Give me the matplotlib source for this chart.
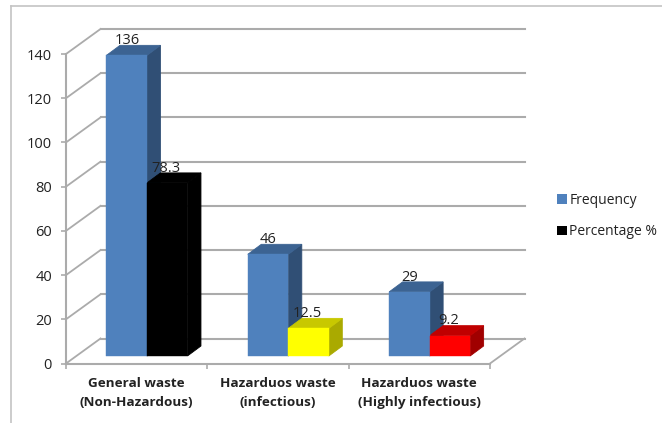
import matplotlib
matplotlib.use("Agg")
import matplotlib.pyplot as plt
from matplotlib.patches import Patch, Polygon, Rectangle
import numpy as np

categories = ['General waste\n(Non-Hazardous)', 'Hazarduos waste\n(infectious)', 'Hazarduos waste\n(Highly infectious)']
frequency = [136, 46, 29]
percentage = [78.3, 12.5, 9.2]
percent_labels = ['78.3', '12.5', '9.2']
y_ticks = [0, 20, 40, 60, 80, 100, 120, 140]

# front, top, side
blue = ('#4F81BD', '#3C6392', '#304F75')
pct_colors = [('#000000', '#000000', '#000000'),
              ('#FFFF00', '#C8C800', '#AAAA00'),
              ('#FF0000', '#C00000', '#A00000')]

plt.rcParams['font.family'] = ['Open Sans', 'DejaVu Sans']
GREY = '#ABABAB'
TXT = '#222222'

W, H = 662, 423
fig = plt.figure(figsize=(W/100, H/100), dpi=100, facecolor='white')

# outer frame of the pasted chart
fig.add_artist(plt.Line2D([11/W, 11/W], [0, 1-6/H], color='#C4C4C4', lw=1.2))
fig.add_artist(plt.Line2D([11/W, 1], [1-6/H, 1-6/H], color='#C4C4C4', lw=1.2))

x0, x1, y0, y1 = 66, 490, 363.5, 54
ax = fig.add_axes([x0/W, 1-y0/H, (x1-x0)/W, (y0-y1)/H])
ax.set_xlim(0, 3)
ax.set_ylim(0, 140)
ax.patch.set_visible(False)

# pixel sizes -> data units
px_x = 3/(x1-x0)
px_y = 140/(y0-y1)
wall_dx, wall_dy = 34.5*px_x, 25*px_y
depth_dx, depth_dy = 13.5*px_x, 10*px_y
lift_dx, lift_dy = 10.3*px_x, 7.5*px_y
bar_w = 40.5*px_x

# walls and floor
for v in y_ticks:
    ax.plot([0, wall_dx], [v, v+wall_dy], color=GREY, lw=1.3, clip_on=False, zorder=1)
    ax.plot([wall_dx, 3+wall_dx], [v+wall_dy, v+wall_dy], color=GREY, lw=1.5, clip_on=False, zorder=1)
ax.plot([3, 3+wall_dx], [0, wall_dy], color=GREY, lw=1.3, clip_on=False, zorder=1)


def bar3d(x, val, cols):
    left = x + lift_dx
    right = left + bar_w
    base = lift_dy
    top = val + lift_dy
    ax.add_patch(Polygon([(right, base), (right+depth_dx, base+depth_dy), (right+depth_dx, top+depth_dy), (right, top)],
                         fc=cols[2], ec=cols[2], lw=0.6, clip_on=False, zorder=2.5))
    ax.add_patch(Polygon([(left, top), (right, top), (right+depth_dx, top+depth_dy), (left+depth_dx, top+depth_dy)],
                         fc=cols[1], ec=cols[1], lw=0.6, clip_on=False, zorder=2.6))
    ax.add_patch(Rectangle((left, base), bar_w, val, fc=cols[0], ec=cols[0], lw=0.3, clip_on=False, zorder=3))
    return left + bar_w/2, top + depth_dy


for i in range(3):
    cx = i + 0.5
    bx, by = bar3d(cx - bar_w, frequency[i], blue)
    ax.annotate(str(frequency[i]), (bx, by), xytext=(0.3, -2), textcoords='offset points',
                ha='center', va='bottom', fontsize=10.5, color=TXT, zorder=5, annotation_clip=False)
    px, py = bar3d(cx, percentage[i], pct_colors[i])
    ax.annotate(percent_labels[i], (px, py), xytext=(-0.6, -2), textcoords='offset points',
                ha='center', va='bottom', fontsize=10.5, color=TXT, zorder=5, annotation_clip=False)

ax.set_yticks(y_ticks)
ax.set_xticks([0, 1, 2, 3])
ax.set_xticklabels([])
ax.set_xticks([0.5, 1.5, 2.5], categories, minor=True, fontweight='bold', fontsize=9.7, color=TXT, linespacing=1.62)
ax.tick_params(axis='y', length=3.5, width=1.2, color=GREY, labelsize=10.5, labelcolor=TXT, pad=6.5)
ax.tick_params(axis='x', which='major', length=3.5, width=1.2, color=GREY)
ax.tick_params(axis='x', which='minor', length=0, pad=9.5)
for s in ['top', 'right']:
    ax.spines[s].set_visible(False)
for s in ['left', 'bottom']:
    ax.spines[s].set_color(GREY)
    ax.spines[s].set_linewidth(1.5)

handles = [Patch(fc=blue[0], ec='none'), Patch(fc='#000000', ec='none')]
fig.legend(handles, ['Frequency', 'Percentage %'], loc='center left', bbox_to_anchor=(553/W, 1-216/H),
           frameon=False, fontsize=10, handlelength=0.72, handleheight=0.72, handletextpad=0.15,
           labelspacing=1.2, labelcolor=TXT, borderpad=0.3, borderaxespad=0)

fig.savefig('out.png', dpi=100)
plt.close(fig)
